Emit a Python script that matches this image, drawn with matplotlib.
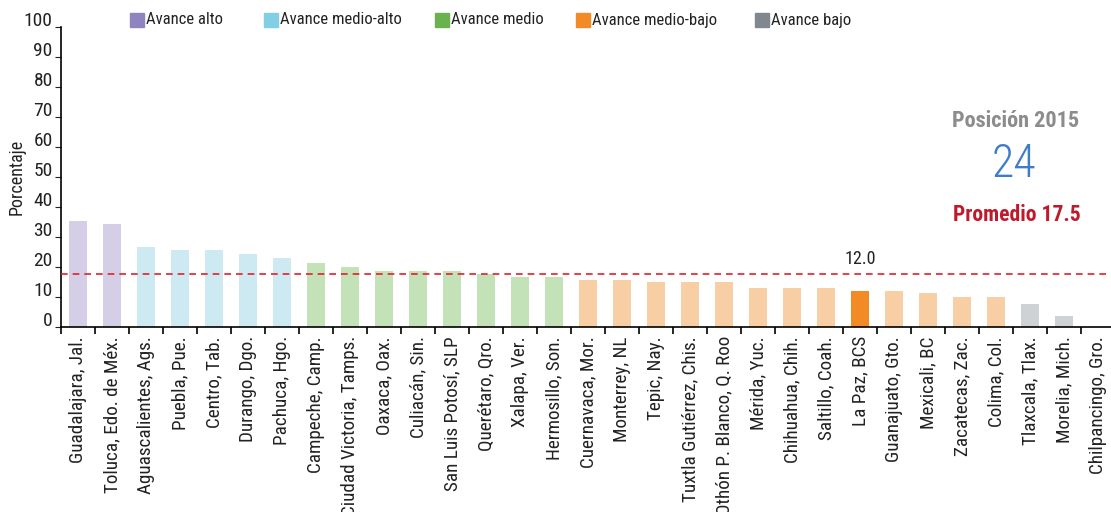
import numpy as np
import matplotlib
matplotlib.use("Agg")
import matplotlib.pyplot as plt
from matplotlib.patches import Rectangle

plt.rcParams['font.family'] = ['Roboto Condensed', 'Lato', 'DejaVu Sans']

ciudades = ["Guadalajara, Jal.", "Toluca, Edo. de Méx.", "Aguascalientes, Ags.", "Puebla, Pue.",
            "Centro, Tab.", "Durango, Dgo.", "Pachuca, Hgo.", "Campeche, Camp.",
            "Ciudad Victoria, Tamps.", "Oaxaca, Oax.", "Culiacán, Sin.", "San Luis Potosí, SLP",
            "Querétaro, Qro.", "Xalapa, Ver.", "Hermosillo, Son.", "Cuernavaca, Mor.",
            "Monterrey, NL", "Tepic, Nay.", "Tuxtla Gutiérrez, Chis.", "Othón P. Blanco, Q. Roo",
            "Mérida, Yuc.", "Chihuahua, Chih.", "Saltillo, Coah.", "La Paz, BCS",
            "Guanajuato, Gto.", "Mexicali, BC", "Zacatecas, Zac.", "Colima, Col.",
            "Tlaxcala, Tlax.", "Morelia, Mich.", "Chilpancingo, Gro."]
valores = [35.2, 34.1, 26.4, 25.4, 25.4, 24.1, 22.8, 21.1, 19.8, 18.4, 18.4, 18.4,
           17.6, 16.4, 16.4, 15.4, 15.4, 14.8, 14.8, 14.8, 12.8, 12.8, 12.8, 12.0,
           12.0, 11.1, 9.8, 9.8, 7.4, 3.4, 0.0]
grupo = ["alto"] * 2 + ["medio-alto"] * 5 + ["medio"] * 8 + ["medio-bajo"] * 13 + ["bajo"] * 3

grupos = ["alto", "medio-alto", "medio", "medio-bajo", "bajo"]
etiquetas = ["Avance alto", "Avance medio-alto", "Avance medio", "Avance medio-bajo", "Avance bajo"]
color_fuerte = {"alto": "#8f84bf", "medio-alto": "#82cfe5", "medio": "#6ab150",
                "medio-bajo": "#f28a25", "bajo": "#80878e"}
color_suave = {"alto": "#d4cfe6", "medio-alto": "#cde9f1", "medio": "#c3e2b8",
               "medio-bajo": "#f8cfa5", "bajo": "#cfd2d5"}

ciudad_destacada = "La Paz, BCS"
promedio = 17.5
posicion = 24

fig = plt.figure(figsize=(11.11, 5.12), dpi=100)
ax = fig.add_axes([61 / 1111, 185.5 / 512, 1050 / 1111, 300 / 512])

x = np.arange(len(ciudades))
colores = [color_fuerte[g] if c == ciudad_destacada else color_suave[g]
           for c, g in zip(ciudades, grupo)]
ax.bar(x, valores, width=0.54, color=colores, zorder=2)

ax.axhline(promedio, color="#e3202b", lw=1.2, ls=(0, (4, 3)), zorder=3)

i_dest = ciudades.index(ciudad_destacada)
ax.text(i_dest, 19.4, f"{valores[i_dest]:.1f}", ha="center", va="bottom",
        fontsize=13, color="#222222")

ax.set_xlim(-0.5, -0.5 + 1050 / 34)
ax.set_ylim(0, 100)
ax.set_yticks(np.arange(0, 101, 10))
ax.tick_params(axis="y", direction="out", length=4, labelsize=14, colors="#222222", pad=2)
for lbl in ax.get_yticklabels():
    lbl.set_va("baseline")

ax.set_xticks(x)
ax.set_xticklabels(ciudades, rotation=90, fontsize=13.8, color="#222222")
ax.tick_params(axis="x", length=0, pad=7)
ax.set_xticks(np.arange(-0.5, len(ciudades) - 1, 1), minor=True)
ax.tick_params(axis="x", which="minor", direction="out", length=5, width=1.2)

for s in ["top", "right"]:
    ax.spines[s].set_visible(False)
ax.spines["left"].set_linewidth(1.2)
ax.spines["bottom"].set_linewidth(1.2)

ax.set_ylabel("Porcentaje", fontsize=13, color="#222222")
ax.yaxis.set_label_coords(-35 / 1050, 0.5)

# leyenda manual arriba
leg_x = [130, 264, 435, 576, 755]
for gx, g, et in zip(leg_x, grupos, etiquetas):
    fig.patches.append(Rectangle((gx / 1111, 1 - 27 / 512), 14 / 1111, 14 / 512,
                                 transform=fig.transFigure, color=color_fuerte[g]))
    fig.text((gx + 16) / 1111, 1 - 20 / 512, et, fontsize=12, color="#222222",
             ha="left", va="center")

fig.text(1016 / 1111, 1 - 121 / 512, "Posición 2015", fontsize=16, fontweight="bold",
         color="#8c8c8c", ha="center", va="center")
fig.text(1014 / 1111, 1 - 164 / 512, str(posicion), fontsize=33, fontweight=200,
         color="#3d7cc9", ha="center", va="center")
fig.text(1017 / 1111, 1 - 215 / 512, f"Promedio {promedio}", fontsize=15.5, fontweight="bold",
         color="#c0192c", ha="center", va="center")

fig.savefig("out.png", dpi=100)
